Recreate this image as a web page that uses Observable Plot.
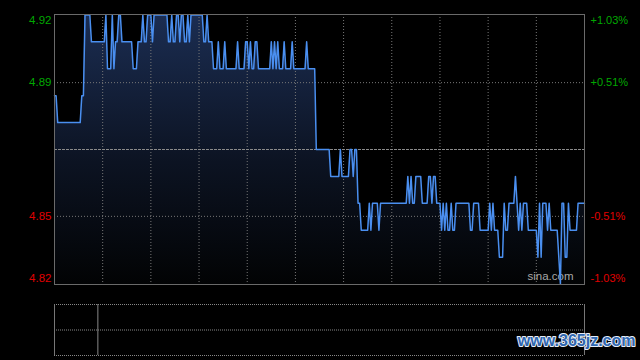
<!DOCTYPE html>
<html><head><meta charset="utf-8">
<script src="https://cdn.jsdelivr.net/npm/d3@7"></script>
<script src="https://cdn.jsdelivr.net/npm/@observablehq/plot@0.6"></script>
<style>
html,body{margin:0;padding:0;background:#000;}
#chart{width:640px;height:360px;overflow:hidden;background:#000;}
#chart svg{display:block;background:#000;}
</style>
</head><body><div id="chart"></div>
<script>
// ---- data ----
const prevClose = 4.87;
const pctValues = [1.03, 0.51, -0.51, -1.03];
const pctLabels = ["+1.03%", "+0.51%", "-0.51%", "-1.03%"];
const priceLabels = ["4.92", "4.89", "4.85", "4.82"];
const sessionMinutes = 330;
const timeGrid = [30, 60, 90, 120, 150, 180, 210, 240, 270, 300];
const volumeMarker = [27];
// price runs: each price held for the given number of minutes
const runPrices = [
  4.89,4.88,4.89,4.92,4.91,4.92,4.90,4.92,4.90,4.91,4.92,4.91,4.90,4.91,4.92,4.91,4.92,4.91,4.92,
  4.91,4.92,4.91,4.92,4.91,4.92,4.91,4.92,4.91,4.92,
  4.91,4.92,4.91,4.90,4.91,4.90,4.91,4.90,4.91,4.90,4.91,4.90,4.91,4.90,4.91,4.90,4.91,4.90,4.91,4.90,4.91,4.90,4.91,4.90,4.91,4.90,4.91,4.90,
  4.87,4.86,4.87,4.86,4.87,4.86,4.87,4.85,4.84,4.85,4.84,4.85,4.84,
  4.85,4.86,4.85,4.86,4.85,4.86,4.85,4.86,4.85,4.86,4.85,4.84,4.85,4.84,4.85,4.84,4.85,4.84,4.85,4.84,4.85,4.84,4.85,4.84,4.85,4.84,4.83,4.85,4.84,4.85,4.86,4.85,4.84,4.85,4.84,4.85,4.84,4.83,4.85,4.83,4.85,4.84,4.85,4.84,4.83,4.82,4.85,4.83,4.85,4.84,4.85
];
const runLengths = [
  2,15,2,4,9,1,3,1,1,2,2,7,3,3,1,2,3,1,9,
  2,1,2,2,1,2,2,1,1,8,
  2,1,3,3,1,3,1,7,1,4,2,1,1,2,2,8,1,1,1,1,1,3,1,4,1,8,1,5,
  9,6,1,5,2,1,2,2,5,1,1,4,1,
  17,1,1,1,2,4,4,2,1,2,3,1,1,1,1,2,1,2,9,2,4,6,1,1,1,3,3,1,2,4,1,1,1,1,1,3,6,1,1,1,3,1,1,5,1,1,2,2,1,5,5
];

// ---- build table ----
const series = [];
{
  let m = 0;
  runPrices.forEach((p, i) => {
    for (let k = 0; k < runLengths[i]; k++) series.push({m: m++, p});
  });
}
const yTop = prevClose * (1 + pctValues[0] / 100);
const yBottom = prevClose * (1 + pctValues[3] / 100);
const rows = pctValues.map((v, i) => ({
  y: prevClose * (1 + v / 100), price: priceLabels[i], pct: pctLabels[i],
  color: v > 0 ? "#00a800" : "#e00000", dy: i === 0 ? 6 : i === pctValues.length - 1 ? -6 : 0
}));
const innerLevels = rows.slice(1, -1).map(r => r.y);

const FONT = "'Liberation Sans', Arial, sans-serif";

const gradientDefs = () => {
  const defs = d3.create("svg:defs");
  const g = defs.append("linearGradient").attr("id", "areaGrad")
    .attr("x1", 0).attr("y1", 0).attr("x2", 0).attr("y2", 1);
  g.append("stop").attr("offset", "0%").attr("stop-color", "#1b2d52");
  g.append("stop").attr("offset", "55%").attr("stop-color", "#0c1322");
  g.append("stop").attr("offset", "100%").attr("stop-color", "#020304");
  return defs.node();
};

const labelMarks = rows.flatMap(r => [
  Plot.text([r], {frameAnchor: "left", y: "y", text: "price", textAnchor: "end", dx: -3, dy: r.dy,
    fill: r.color, fontSize: 11.5, fontFamily: FONT}),
  Plot.text([r], {frameAnchor: "right", y: "y", text: "pct", textAnchor: "start", dx: 6, dy: r.dy,
    fill: r.color, fontSize: 11, fontFamily: FONT})
]);

const main = Plot.plot({
  width: 640, height: 290,
  marginTop: 14, marginBottom: 6, marginLeft: 54, marginRight: 56,
  style: {background: "#000", overflow: "visible"},
  x: {domain: [0, sessionMinutes], axis: null},
  y: {domain: [yBottom, yTop], axis: null},
  marks: [
    gradientDefs,
    Plot.areaY(series, {x: "m", y1: yBottom, y2: "p", fill: "url(#areaGrad)"}),
    Plot.ruleX(timeGrid, {stroke: "#777", strokeDasharray: "1,2"}),
    Plot.ruleY(innerLevels, {stroke: "#777", strokeDasharray: "1,2"}),
    Plot.ruleY([prevClose], {stroke: "#8a8a8a", strokeDasharray: "3,1"}),
    Plot.text(["sina.com"], {frameAnchor: "bottom-right", text: d => d, textAnchor: "end", dx: -11, dy: -5,
      fill: "#a8a8a8", fontSize: 11.5, fontFamily: FONT}),
    Plot.lineY(series, {x: "m", y: "p", stroke: "#4a8ff0", strokeWidth: 1.5}),
    Plot.frame({stroke: "#6a6a6a"}),
    ...labelMarks
  ]
});

const lower = Plot.plot({
  width: 640, height: 70,
  marginTop: 14, marginBottom: 5, marginLeft: 54, marginRight: 56,
  style: {background: "#000", overflow: "visible"},
  x: {domain: [0, sessionMinutes], axis: null},
  y: {domain: [0, 2], axis: null},
  marks: [
    Plot.ruleY([0, 1, 2], {stroke: "#888", strokeDasharray: "1,1"}),
    Plot.ruleX([0, sessionMinutes], {stroke: "#777"}),
    Plot.ruleX(volumeMarker, {stroke: "#888"}),
    Plot.text(["www.365jz.com"], {frameAnchor: "bottom-right", text: d => d, textAnchor: "end", dx: 51, dy: -10,
      fill: "#2f66b0", stroke: "#e8eef8", strokeWidth: 2, paintOrder: "stroke", fontSize: 16,
      fontWeight: "bold", fontFamily: FONT})
  ]
});

const el = document.getElementById("chart");
el.appendChild(main);
el.appendChild(lower);
</script>
</body></html>
